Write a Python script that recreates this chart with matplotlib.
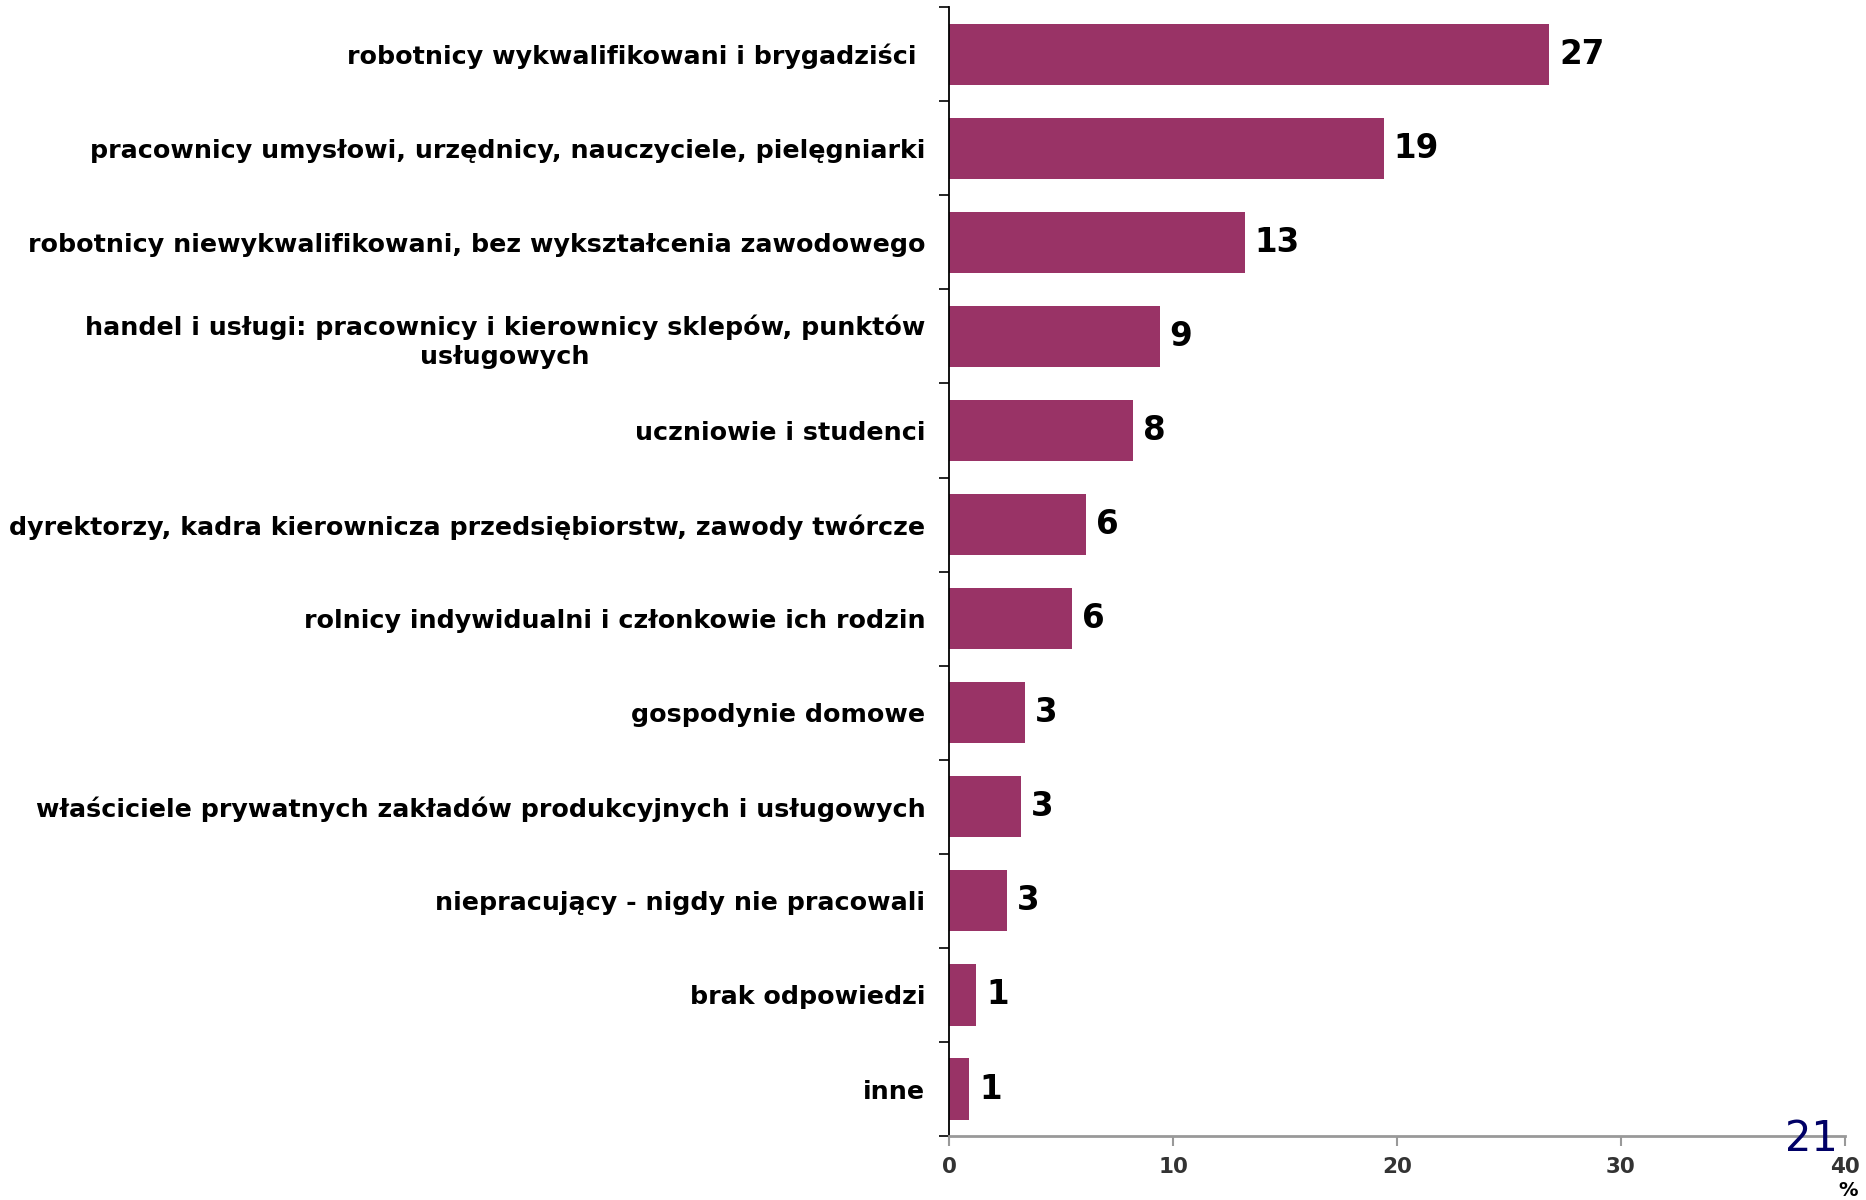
import numpy as np
import matplotlib.pyplot as plt

plt.rcParams['font.family'] = ['DejaVu Sans']

# Data (top to bottom)
categories = [
    "robotnicy wykwalifikowani i brygadziści ",
    "pracownicy umysłowi, urzędnicy, nauczyciele, pielęgniarki",
    "robotnicy niewykwalifikowani, bez wykształcenia zawodowego",
    "handel i usługi: pracownicy i kierownicy sklepów, punktów\nusługowych",
    "uczniowie i studenci",
    "dyrektorzy, kadra kierownicza przedsiębiorstw, zawody twórcze",
    "rolnicy indywidualni i członkowie ich rodzin",
    "gospodynie domowe",
    "właściciele prywatnych zakładów produkcyjnych i usługowych",
    "niepracujący - nigdy nie pracowali",
    "brak odpowiedzi",
    "inne",
]
values = [26.8, 19.4, 13.2, 9.4, 8.2, 6.1, 5.5, 3.4, 3.2, 2.6, 1.2, 0.9]
labels = ["27", "19", "13", "9", "8", "6", "6", "3", "3", "3", "1", "1"]
xticks = [0, 10, 20, 30, 40]

fig = plt.figure(figsize=(18.66, 12), dpi=100)
ax = fig.add_axes([0.5086, 0.0533, 0.4801, 0.9407])

y = np.arange(len(categories))
ax.barh(y, values, height=0.65, color="#993366")

for yi, v, lab in zip(y, values, labels):
    ax.text(v + 0.45, yi, lab, va="center", ha="left", fontsize=23.5,
            fontweight="heavy", color="black")

ax.set_ylim(len(categories) - 0.5, -0.5)
ax.set_xlim(0, 40)

ax.set_yticks(y)
ax.set_yticklabels(categories, fontsize=18.3, fontweight="heavy")
for lbl in ax.get_yticklabels():
    lbl.set_multialignment("center")
    lbl.set_linespacing(1.3)
ax.tick_params(axis="y", which="major", length=0, pad=17)
ax.set_yticks(np.arange(-0.5, len(categories), 1), minor=True)
ax.tick_params(axis="y", which="minor", length=7, width=1.2, color="black")

ax.set_xticks(xticks)
ax.set_xticklabels([str(t) for t in xticks], fontsize=15.5, fontweight="heavy",
                   color="#333333")
ax.tick_params(axis="x", length=7, width=1.5, color="#999999", pad=8)

for s in ["top", "right"]:
    ax.spines[s].set_visible(False)
ax.spines["left"].set_color("black")
ax.spines["left"].set_linewidth(1.3)
ax.spines["bottom"].set_color("#999999")
ax.spines["bottom"].set_linewidth(2)

fig.text(1848 / 1866, 1 - 1191 / 1200, "%", ha="center", va="center",
         fontsize=14, fontweight="heavy", color="black")
fig.text(1811 / 1866, 1 - 1139 / 1200, "21", ha="center", va="center",
         fontsize=30, color="#000066")

fig.savefig("out.png", dpi=100)
